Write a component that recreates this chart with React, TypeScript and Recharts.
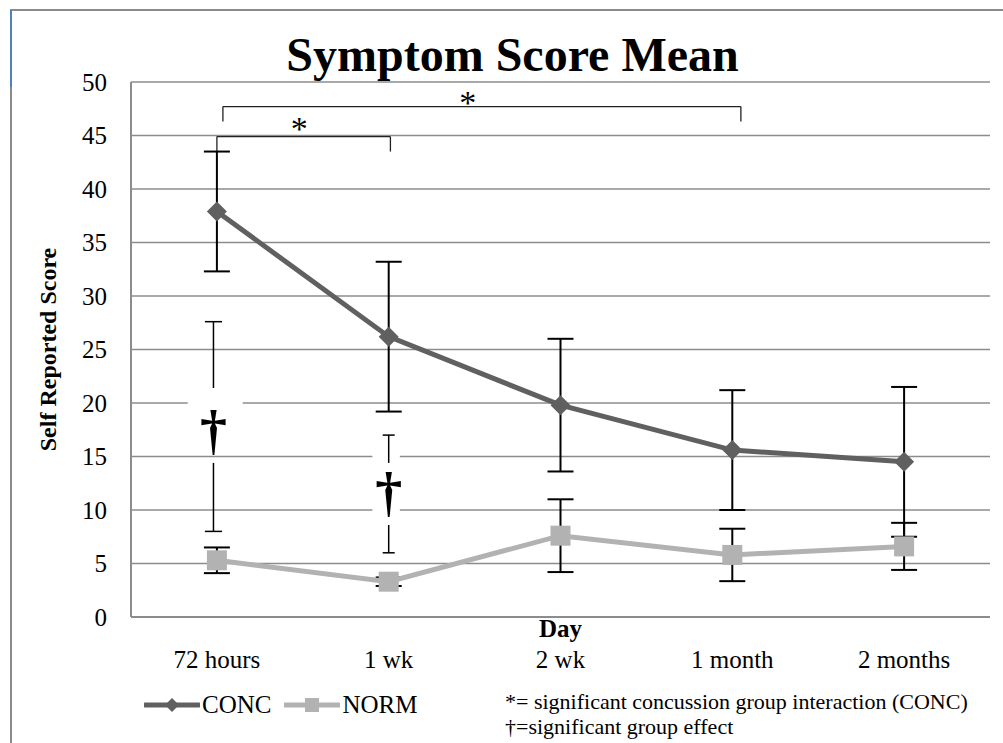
import React from 'react';
import {
  LineChart, Line, XAxis, YAxis, CartesianGrid, ErrorBar, Legend,
  ReferenceLine, ReferenceArea, ReferenceDot,
} from 'recharts';

const categories = ['72 hours', '1 wk', '2 wk', '1 month', '2 months'];
const concMean = [37.9, 26.2, 19.8, 15.6, 14.5];
const concErr = [5.6, 7.0, 6.2, 5.6, 7.0];
const normMean = [5.3, 3.3, 7.6, 5.8, 6.6];
const normErr = [1.2, 0.4, 3.4, 2.45, 2.2];
const yTicks = [0, 5, 10, 15, 20, 25, 30, 35, 40, 45, 50];

// group effect markers (dagger bars)
const daggerAt = [-0.02, 1.0];
const daggerHigh = [27.6, 17.0];
const daggerGapTop = [21.4, 14.4];
const daggerGapBottom = [14.4, 8.6];
const daggerLow = [8.0, 6.0];
const daggerGlyphY = [17.6, 11.8];
const daggerCap = [0.05, 0.035];
// white patch behind the dagger
const patchLeft = [-0.15, -0.095];
const patchRight = [0.17, 0.065];
const patchLow = [15.4, 8.9];
const patchHigh = [21.3, 15.6];

// concussion interaction brackets
const bracketFrom = [0, 0.035];
const bracketTo = [1.01, 3.05];
const bracketY = [44.9, 47.7];
const bracketDrop = [1.4, 1.4];
const starX = [0.48, 1.46];
const starY = [45.7, 48.1];

const data = categories.map((name, i) => ({
  x: i,
  name,
  conc: concMean[i],
  concErr: concErr[i],
  norm: normMean[i],
  normErr: normErr[i],
}));

const FONT = '"Liberation Serif", "Times New Roman", serif';
const CONC_COLOR = '#606060';
const NORM_COLOR = '#b2b2b2';
const GRID_COLOR = '#8c8c8c';

const Diamond = (props: any) => {
  const { cx, cy } = props;
  if (cx == null || cy == null) return null;
  const r = 10;
  return (
    <path
      d={`M${cx},${cy - r} L${cx + r},${cy} L${cx},${cy + r} L${cx - r},${cy} Z`}
      fill={CONC_COLOR}
    />
  );
};

const Square = (props: any) => {
  const { cx, cy } = props;
  if (cx == null || cy == null) return null;
  return <rect x={cx - 10} y={cy - 10} width={20} height={20} fill={NORM_COLOR} />;
};

const LegendContent = (props: any) => {
  const { payload } = props;
  return (
    <div style={{ display: 'flex', alignItems: 'center', fontFamily: FONT, fontSize: 25 }}>
      {(payload || []).map((p: any, i: number) => (
        <div key={p.value} style={{ display: 'flex', alignItems: 'center', marginRight: i === 0 ? 13 : 0 }}>
          <svg width={56} height={20} style={{ marginRight: 2 }}>
            <line x1={1} y1={10} x2={55} y2={10} stroke={p.color} strokeWidth={5} strokeLinecap="round" />
            {i === 0 ? (
              <path d="M28,3 L35,10 L28,17 L21,10 Z" fill={p.color} />
            ) : (
              <rect x={21} y={3} width={14} height={14} fill={p.color} />
            )}
          </svg>
          <span style={{ color: '#000' }}>{p.value}</span>
        </div>
      ))}
    </div>
  );
};

export default function App() {
  return (
    <div style={{ position: 'absolute', left: 0, top: 0, width: 1003, height: 743, background: '#fff', overflow: 'hidden' }}>
      <div style={{ position: 'absolute', left: 10, top: 9, width: 993, height: 734, borderTop: '2px solid #8a8a8a', borderLeft: '2px solid #8a8a8a' }} />
      <div style={{ position: 'absolute', left: 10, top: 10, width: 2, height: 77, background: '#4f81bd' }} />

      <LineChart
        width={1003}
        height={743}
        data={data}
        margin={{ top: 82, right: 13, bottom: 66, left: 30 }}
        style={{ position: 'absolute', left: 0, top: 0, fontFamily: FONT }}
      >
        <CartesianGrid vertical={false} stroke={GRID_COLOR} strokeWidth={1.5} />
        <XAxis
          dataKey="x"
          type="number"
          domain={[-0.5, 4.5]}
          ticks={[0, 1, 2, 3, 4]}
          tickFormatter={(v: number) => categories[v]}
          height={60}
          tickLine={false}
          tickSize={6}
          tickMargin={27}
          axisLine={{ stroke: GRID_COLOR, strokeWidth: 2 }}
          tick={{ fill: '#000', fontSize: 25, fontFamily: FONT }}
          label={{ value: 'Day', position: 'insideTop', offset: 2, fill: '#000', fontSize: 25, fontWeight: 'bold', fontFamily: FONT }}
        />
        <YAxis
          domain={[0, 50]}
          ticks={yTicks}
          width={101}
          tickLine={false}
          tickSize={6}
          tickMargin={18}
          axisLine={{ stroke: GRID_COLOR, strokeWidth: 2 }}
          tick={{ fill: '#000', fontSize: 25, fontFamily: FONT }}
          label={{
            value: 'Self Reported Score', angle: -90, position: 'insideLeft', offset: 17,
            fill: '#000', fontSize: 24, fontWeight: 'bold', fontFamily: FONT, style: { textAnchor: 'middle' },
          }}
        />

        {daggerAt.map((x, i) => (
          <ReferenceArea
            key={`gap${i}`}
            x1={x + patchLeft[i]}
            x2={x + patchRight[i]}
            y1={patchLow[i]}
            y2={patchHigh[i]}
            fill="#fff"
            fillOpacity={1}
            stroke="none"
          />
        ))}
        {daggerAt.map((x, i) => (
          <React.Fragment key={`dg${i}`}>
            <ReferenceLine segment={[{ x, y: daggerHigh[i] }, { x, y: daggerGapTop[i] }]} stroke="#000" strokeWidth={1.5} />
            <ReferenceLine segment={[{ x, y: daggerGapBottom[i] }, { x, y: daggerLow[i] }]} stroke="#000" strokeWidth={1.5} />
            <ReferenceLine segment={[{ x: x - daggerCap[i], y: daggerHigh[i] }, { x: x + daggerCap[i], y: daggerHigh[i] }]} stroke="#000" strokeWidth={1.5} />
            <ReferenceLine segment={[{ x: x - daggerCap[i], y: daggerLow[i] }, { x: x + daggerCap[i], y: daggerLow[i] }]} stroke="#000" strokeWidth={1.5} />
            <ReferenceDot
              x={x}
              y={daggerGlyphY[i]}
              r={0}
              fill="none"
              stroke="none"
              label={{ value: '\u2020', position: 'center', fill: '#000', fontSize: 54, fontWeight: 'bold', fontFamily: FONT }}
            />
          </React.Fragment>
        ))}

        {bracketFrom.map((x1, i) => (
          <React.Fragment key={`br${i}`}>
            <ReferenceLine segment={[{ x: x1, y: bracketY[i] }, { x: bracketTo[i], y: bracketY[i] }]} stroke="#222" strokeWidth={1.3} />
            <ReferenceLine segment={[{ x: x1, y: bracketY[i] }, { x: x1, y: bracketY[i] - bracketDrop[i] }]} stroke="#222" strokeWidth={1.3} />
            <ReferenceLine segment={[{ x: bracketTo[i], y: bracketY[i] }, { x: bracketTo[i], y: bracketY[i] - bracketDrop[i] }]} stroke="#222" strokeWidth={1.3} />
            <ReferenceDot
              x={starX[i]}
              y={starY[i]}
              r={0}
              fill="none"
              stroke="none"
              label={{ value: '*', position: 'center', fill: '#000', fontSize: 34, fontFamily: FONT }}
            />
          </React.Fragment>
        ))}

        <Line
          dataKey="conc"
          name="CONC"
          stroke={CONC_COLOR}
          strokeWidth={5}
          dot={<Diamond />}
          activeDot={false}
          isAnimationActive={false}
        >
          <ErrorBar dataKey="concErr" width={13} stroke="#000" strokeWidth={2} direction="y" isAnimationActive={false} />
        </Line>
        <Line
          dataKey="norm"
          name="NORM"
          stroke={NORM_COLOR}
          strokeWidth={5}
          dot={<Square />}
          activeDot={false}
          isAnimationActive={false}
        >
          <ErrorBar dataKey="normErr" width={13} stroke="#000" strokeWidth={2} direction="y" isAnimationActive={false} />
        </Line>

        <Legend
          layout="horizontal"
          verticalAlign="middle"
          align="center"
          wrapperStyle={{ top: 691, left: 144, width: 'auto' }}
          content={<LegendContent />}
        />
      </LineChart>

      <div style={{ position: 'absolute', left: 0, width: 1025, top: 31, textAlign: 'center', fontFamily: FONT, fontWeight: 'bold', fontSize: 48, lineHeight: '48px', color: '#000' }}>
        Symptom Score Mean
      </div>
      <div style={{ position: 'absolute', left: 505, top: 689, fontFamily: FONT, fontSize: 22, lineHeight: '25px', color: '#000', whiteSpace: 'nowrap' }}>
        <div>*= significant concussion group interaction (CONC)</div>
        <div>{'\u2020'}=significant group effect</div>
      </div>
    </div>
  );
}
